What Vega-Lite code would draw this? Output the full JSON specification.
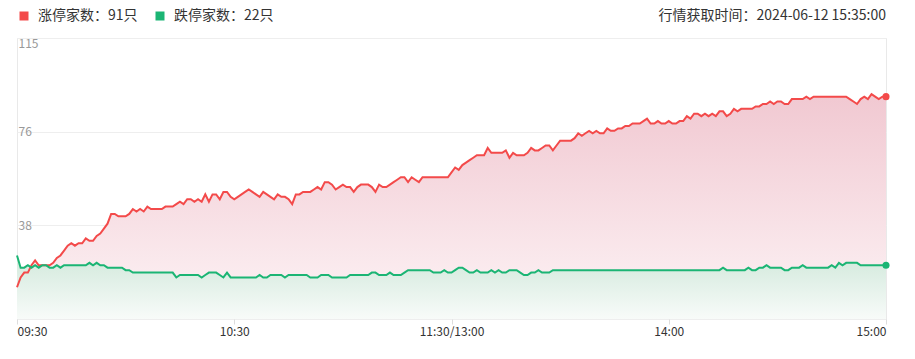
{
  "$schema": "https://vega.github.io/schema/vega-lite/v6.json",
  "width": 869,
  "height": 281,
  "autosize": {"type": "none"},
  "padding": {"left": 17, "top": 38, "right": 29, "bottom": 40},
  "background": "white",
  "config": {
    "view": {"stroke": "#e9e9e9", "strokeWidth": 1},
    "font": "Noto Sans CJK SC"
  },
  "title": {
    "text": "行情获取时间：2024-06-12 15:35:00",
    "anchor": "end",
    "frame": "group",
    "orient": "top",
    "font": "Noto Sans CJK SC",
    "fontSize": 14,
    "fontWeight": "normal",
    "color": "#333333",
    "offset": -14
  },
  "data": {
    "values": [
      {"t":0,"up":13,"down":26},{"t":1,"up":17,"down":21},{"t":2,"up":19,"down":21},{"t":3,"up":19,"down":22},{"t":4,"up":22,"down":21},
      {"t":5,"up":24,"down":22},{"t":6,"up":22,"down":21},{"t":7,"up":22,"down":22},{"t":8,"up":22,"down":22},{"t":9,"up":22,"down":21},
      {"t":10,"up":23,"down":21},{"t":11,"up":25,"down":22},{"t":12,"up":26,"down":21},{"t":13,"up":28,"down":22},{"t":14,"up":30,"down":22},
      {"t":15,"up":31,"down":22},{"t":16,"up":30,"down":22},{"t":17,"up":31,"down":22},{"t":18,"up":31,"down":22},{"t":19,"up":33,"down":22},
      {"t":20,"up":32,"down":23},{"t":21,"up":32,"down":22},{"t":22,"up":34,"down":23},{"t":23,"up":35,"down":22},{"t":24,"up":37,"down":22},
      {"t":25,"up":39,"down":21},{"t":26,"up":43,"down":21},{"t":27,"up":43,"down":21},{"t":28,"up":42,"down":21},{"t":29,"up":42,"down":21},
      {"t":30,"up":42,"down":20},{"t":31,"up":43,"down":20},{"t":32,"up":45,"down":19},{"t":33,"up":44,"down":19},{"t":34,"up":45,"down":19},
      {"t":35,"up":44,"down":19},{"t":36,"up":46,"down":19},{"t":37,"up":45,"down":19},{"t":38,"up":45,"down":19},{"t":39,"up":45,"down":19},
      {"t":40,"up":45,"down":19},{"t":41,"up":46,"down":19},{"t":42,"up":46,"down":19},{"t":43,"up":46,"down":19},{"t":44,"up":47,"down":17},
      {"t":45,"up":48,"down":18},{"t":46,"up":47,"down":18},{"t":47,"up":49,"down":18},{"t":48,"up":49,"down":18},{"t":49,"up":48,"down":18},
      {"t":50,"up":49,"down":18},{"t":51,"up":48,"down":17},{"t":52,"up":51,"down":18},{"t":53,"up":48,"down":19},{"t":54,"up":51,"down":19},
      {"t":55,"up":51,"down":19},{"t":56,"up":49,"down":18},{"t":57,"up":52,"down":17},{"t":58,"up":52,"down":19},{"t":59,"up":50,"down":17},
      {"t":60,"up":49,"down":17},{"t":61,"up":50,"down":17},{"t":62,"up":51,"down":17},{"t":63,"up":52,"down":17},{"t":64,"up":53,"down":17},
      {"t":65,"up":52,"down":17},{"t":66,"up":51,"down":17},{"t":67,"up":50,"down":18},{"t":68,"up":52,"down":17},{"t":69,"up":51,"down":17},
      {"t":70,"up":50,"down":18},{"t":71,"up":49,"down":18},{"t":72,"up":51,"down":18},{"t":73,"up":50,"down":18},{"t":74,"up":50,"down":17},
      {"t":75,"up":49,"down":18},{"t":76,"up":47,"down":18},{"t":77,"up":51,"down":18},{"t":78,"up":51,"down":18},{"t":79,"up":52,"down":18},
      {"t":80,"up":52,"down":18},{"t":81,"up":52,"down":17},{"t":82,"up":53,"down":17},{"t":83,"up":54,"down":17},{"t":84,"up":53,"down":18},
      {"t":85,"up":56,"down":18},{"t":86,"up":56,"down":18},{"t":87,"up":55,"down":17},{"t":88,"up":53,"down":17},{"t":89,"up":54,"down":17},
      {"t":90,"up":55,"down":17},{"t":91,"up":54,"down":17},{"t":92,"up":54,"down":18},{"t":93,"up":52,"down":18},{"t":94,"up":54,"down":18},
      {"t":95,"up":55,"down":18},{"t":96,"up":55,"down":18},{"t":97,"up":55,"down":18},{"t":98,"up":54,"down":19},{"t":99,"up":52,"down":19},
      {"t":100,"up":55,"down":18},{"t":101,"up":54,"down":18},{"t":102,"up":54,"down":18},{"t":103,"up":55,"down":19},{"t":104,"up":56,"down":18},
      {"t":105,"up":57,"down":18},{"t":106,"up":58,"down":18},{"t":107,"up":58,"down":19},{"t":108,"up":56,"down":20},{"t":109,"up":58,"down":20},
      {"t":110,"up":57,"down":20},{"t":111,"up":56,"down":20},{"t":112,"up":58,"down":20},{"t":113,"up":58,"down":20},{"t":114,"up":58,"down":20},
      {"t":115,"up":58,"down":19},{"t":116,"up":58,"down":19},{"t":117,"up":58,"down":19},{"t":118,"up":58,"down":20},{"t":119,"up":58,"down":19},
      {"t":120,"up":60,"down":19},{"t":121,"up":62,"down":20},{"t":122,"up":61,"down":21},{"t":123,"up":63,"down":21},{"t":124,"up":64,"down":20},
      {"t":125,"up":65,"down":19},{"t":126,"up":66,"down":19},{"t":127,"up":67,"down":20},{"t":128,"up":67,"down":19},{"t":129,"up":67,"down":19},
      {"t":130,"up":70,"down":19},{"t":131,"up":68,"down":20},{"t":132,"up":68,"down":19},{"t":133,"up":68,"down":20},{"t":134,"up":68,"down":19},
      {"t":135,"up":69,"down":19},{"t":136,"up":66,"down":20},{"t":137,"up":68,"down":20},{"t":138,"up":67,"down":20},{"t":139,"up":67,"down":19},
      {"t":140,"up":67,"down":18},{"t":141,"up":68,"down":18},{"t":142,"up":70,"down":19},{"t":143,"up":69,"down":19},{"t":144,"up":69,"down":20},
      {"t":145,"up":70,"down":19},{"t":146,"up":71,"down":19},{"t":147,"up":71,"down":19},{"t":148,"up":69,"down":20},{"t":149,"up":71,"down":20},
      {"t":150,"up":73,"down":20},{"t":151,"up":73,"down":20},{"t":152,"up":73,"down":20},{"t":153,"up":73,"down":20},{"t":154,"up":74,"down":20},
      {"t":155,"up":76,"down":20},{"t":156,"up":75,"down":20},{"t":157,"up":76,"down":20},{"t":158,"up":77,"down":20},{"t":159,"up":76,"down":20},
      {"t":160,"up":77,"down":20},{"t":161,"up":76,"down":20},{"t":162,"up":76,"down":20},{"t":163,"up":78,"down":20},{"t":164,"up":77,"down":20},
      {"t":165,"up":77,"down":20},{"t":166,"up":78,"down":20},{"t":167,"up":78,"down":20},{"t":168,"up":79,"down":20},{"t":169,"up":79,"down":20},
      {"t":170,"up":80,"down":20},{"t":171,"up":80,"down":20},{"t":172,"up":80,"down":20},{"t":173,"up":81,"down":20},{"t":174,"up":82,"down":20},
      {"t":175,"up":80,"down":20},{"t":176,"up":80,"down":20},{"t":177,"up":81,"down":20},{"t":178,"up":80,"down":20},{"t":179,"up":80,"down":20},
      {"t":180,"up":81,"down":20},{"t":181,"up":80,"down":20},{"t":182,"up":80,"down":20},{"t":183,"up":81,"down":20},{"t":184,"up":81,"down":20},
      {"t":185,"up":83,"down":20},{"t":186,"up":82,"down":20},{"t":187,"up":84,"down":20},{"t":188,"up":84,"down":20},{"t":189,"up":83,"down":20},
      {"t":190,"up":84,"down":20},{"t":191,"up":83,"down":20},{"t":192,"up":84,"down":20},{"t":193,"up":83,"down":20},{"t":194,"up":85,"down":20},
      {"t":195,"up":85,"down":21},{"t":196,"up":83,"down":20},{"t":197,"up":84,"down":20},{"t":198,"up":86,"down":20},{"t":199,"up":85,"down":20},
      {"t":200,"up":86,"down":20},{"t":201,"up":86,"down":20},{"t":202,"up":86,"down":21},{"t":203,"up":86,"down":20},{"t":204,"up":87,"down":20},
      {"t":205,"up":87,"down":21},{"t":206,"up":88,"down":21},{"t":207,"up":88,"down":22},{"t":208,"up":89,"down":21},{"t":209,"up":88,"down":21},
      {"t":210,"up":89,"down":21},{"t":211,"up":89,"down":21},{"t":212,"up":88,"down":20},{"t":213,"up":88,"down":20},{"t":214,"up":90,"down":21},
      {"t":215,"up":90,"down":21},{"t":216,"up":90,"down":21},{"t":217,"up":90,"down":22},{"t":218,"up":91,"down":21},{"t":219,"up":90,"down":21},
      {"t":220,"up":91,"down":21},{"t":221,"up":91,"down":21},{"t":222,"up":91,"down":21},{"t":223,"up":91,"down":21},{"t":224,"up":91,"down":21},
      {"t":225,"up":91,"down":22},{"t":226,"up":91,"down":21},{"t":227,"up":91,"down":23},{"t":228,"up":91,"down":22},{"t":229,"up":91,"down":23},
      {"t":230,"up":90,"down":23},{"t":231,"up":89,"down":23},{"t":232,"up":88,"down":23},{"t":233,"up":90,"down":22},{"t":234,"up":91,"down":22},
      {"t":235,"up":90,"down":22},{"t":236,"up":92,"down":22},{"t":237,"up":91,"down":22},{"t":238,"up":90,"down":22},{"t":239,"up":91,"down":22},
      {"t":240,"up":91,"down":22}
    ]
  },
  "transform": [{"fold": ["up", "down"], "as": ["s", "v"]}],
  "encoding": {
    "x": {
      "field": "t",
      "type": "quantitative",
      "scale": {"domain": [0, 240], "nice": false},
      "axis": {
        "title": null,
        "values": [0, 60, 120, 180, 240],
        "labelExpr": "datum.value == 0 ? '09:30' : datum.value == 60 ? '10:30' : datum.value == 120 ? '11:30/13:00' : datum.value == 180 ? '14:00' : '15:00'",
        "labelFlush": true,
        "grid": false,
        "domain": false,
        "ticks": true,
        "tickSize": 5,
        "tickColor": "#dddddd",
        "labelColor": "#333333",
        "labelFontSize": 12,
        "labelFont": "Noto Sans CJK SC",
        "labelPadding": 2
      }
    },
    "y": {
      "field": "v",
      "type": "quantitative",
      "scale": {"domain": [0, 115], "nice": false},
      "axis": {
        "title": null,
        "values": [0, 38.333, 76.667, 115],
        "labelExpr": "'' + floor(datum.value)",
        "labelFlush": true,
        "labelAlign": "left",
        "labelPadding": -1,
        "ticks": false,
        "tickSize": 0,
        "domain": false,
        "grid": true,
        "gridColor": "#eeeeee",
        "labelColor": "#999999",
        "labelFontSize": 12,
        "labelFont": "Noto Sans CJK SC"
      }
    }
  },
  "layer": [
    {
      "transform": [{"filter": "datum.s == 'up'"}],
      "mark": {
        "type": "area",
        "color": {
          "gradient": "linear", "x1": 0, "y1": 0, "x2": 0, "y2": 1,
          "stops": [
            {"offset": 0, "color": "#f1c8d1"},
            {"offset": 1, "color": "#fdf4f6"}
          ]
        }
      }
    },
    {
      "transform": [{"filter": "datum.s == 'down'"}],
      "mark": {
        "type": "area",
        "color": {
          "gradient": "linear", "x1": 0, "y1": 0, "x2": 0, "y2": 1,
          "stops": [
            {"offset": 0, "color": "#d2e9dc"},
            {"offset": 1, "color": "#f8fbf9"}
          ]
        }
      }
    },
    {
      "mark": {"type": "line", "strokeWidth": 2},
      "encoding": {
        "color": {
          "field": "s",
          "type": "nominal",
          "scale": {"domain": ["up", "down"], "range": ["#f34a4a", "#1bb574"]},
          "legend": {
            "orient": "none",
            "legendX": 0,
            "legendY": -29,
            "direction": "horizontal",
            "title": null,
            "padding": 0,
            "labelExpr": "datum.value == 'up' ? '涨停家数：91只' : '跌停家数：22只'",
            "labelFont": "Noto Sans CJK SC",
            "labelFontSize": 14,
            "labelColor": "#333333",
            "symbolType": "square",
            "symbolSize": 81,
            "labelOffset": 7,
            "columnPadding": 15,
            "encode": {
              "symbols": {
                "update": {
                  "fill": {"scale": "color", "field": "value"},
                  "strokeWidth": {"value": 0}
                }
              }
            }
          }
        }
      }
    },
    {
      "transform": [{"filter": "datum.t == 240"}],
      "mark": {"type": "point", "filled": true, "size": 50, "opacity": 1},
      "encoding": {
        "color": {"field": "s", "type": "nominal", "legend": null}
      }
    }
  ]
}
